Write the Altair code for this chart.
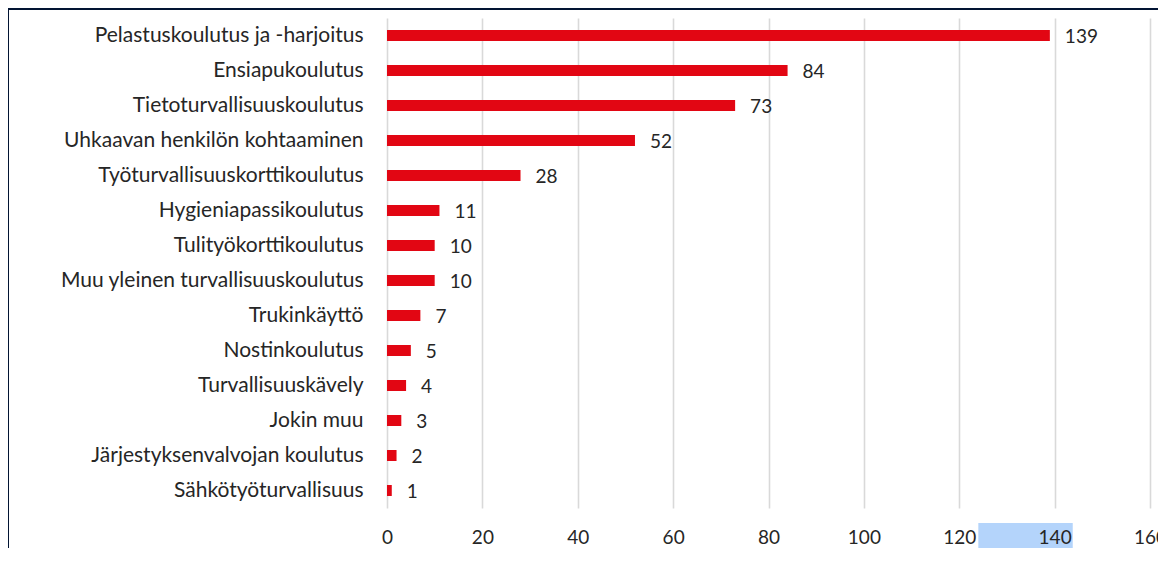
import altair as alt
import pandas as pd

categories = [
    "Pelastuskoulutus ja -harjoitus",
    "Ensiapukoulutus",
    "Tietoturvallisuuskoulutus",
    "Uhkaavan henkilön kohtaaminen",
    "Työturvallisuuskorttikoulutus",
    "Hygieniapassikoulutus",
    "Tulityökorttikoulutus",
    "Muu yleinen turvallisuuskoulutus",
    "Trukinkäyttö",
    "Nostinkoulutus",
    "Turvallisuuskävely",
    "Jokin muu",
    "Järjestyksenvalvojan koulutus",
    "Sähkötyöturvallisuus",
]
values = [139, 84, 73, 52, 28, 11, 10, 10, 7, 5, 4, 3, 2, 1]
x_ticks = [0, 20, 40, 60, 80, 100, 120, 140, 160]
highlight_tick = [124, 143.8]  # selection highlight behind the "140" label

W, H = 763, 490
FONT = "Lato"
NAVY = "#021433"
RED = "#e20613"
TXT = "#262626"

df = pd.DataFrame({"cat": categories, "val": values})

xscale = alt.Scale(domain=[0, 160], nice=False, zero=True)
yscale = alt.Scale(paddingInner=0.686, paddingOuter=0.343)

one = pd.DataFrame({"a": [0]})
# navy frame strips (top and left)
frame_top = alt.Chart(one).mark_rect(color=NAVY).encode(
    x=alt.value(-379), x2=alt.value(W + 8), y=alt.value(-10), y2=alt.value(-8)
)
frame_left = alt.Chart(one).mark_rect(color=NAVY).encode(
    x=alt.value(-379), x2=alt.value(-378), y=alt.value(-10), y2=alt.value(H + 40)
)

# highlight behind "140"; this layer owns the x labels axis (drawn on top)
hl = alt.Chart(pd.DataFrame({"x0": [highlight_tick[0]], "x1": [highlight_tick[1]]})).mark_rect(
    color="#b4d4fb"
).encode(
    x=alt.X(
        "x0:Q",
        scale=xscale,
        axis=alt.Axis(
            values=x_ticks,
            title=None,
            grid=False,
            domain=False,
            ticks=False,
            orient="bottom",
            zindex=2,
            labelFont=FONT,
            labelFontSize=19,
            labelColor=TXT,
            labelPadding=20,
            labelFlush=False,
        ),
    ),
    x2="x1:Q",
    y=alt.value(H + 15),
    y2=alt.value(H + 43),
)

bars = alt.Chart(df).mark_bar(color=RED).encode(
    x=alt.X(
        "val:Q",
        scale=xscale,
        axis=alt.Axis(
            values=x_ticks,
            title=None,
            grid=True,
            gridColor="#d9d9d9",
            gridWidth=1.6,
            domain=False,
            ticks=False,
            labels=False,
            orient="bottom",
            zindex=0,
        ),
    ),
    y=alt.Y(
        "cat:N",
        sort=categories,
        scale=yscale,
        axis=alt.Axis(
            title=None,
            domain=False,
            ticks=False,
            grid=False,
            labelFont=FONT,
            labelFontSize=21,
            labelColor=TXT,
            labelPadding=24,
            labelLimit=400,
        ),
    ),
)

text = alt.Chart(df).mark_text(
    align="left", baseline="middle", dx=15, dy=1, font=FONT, fontSize=19, color=TXT
).encode(
    x=alt.X("val:Q", scale=xscale, axis=None),
    y=alt.Y("cat:N", sort=categories, scale=yscale),
    text=alt.Text("val:Q"),
)

chart = (
    alt.layer(frame_top, frame_left, bars, hl, text)
    .resolve_axis(x="independent")
    .resolve_scale(x="shared")
    .properties(
        width=W,
        height=H,
        autosize=alt.AutoSizeParams(type="none"),
        padding={"left": 379, "top": 10, "right": 8, "bottom": 40},
        background="white",
    )
    .configure_view(stroke=None)
)

chart.save("out.html", embed_options={"renderer": "svg", "actions": False})
